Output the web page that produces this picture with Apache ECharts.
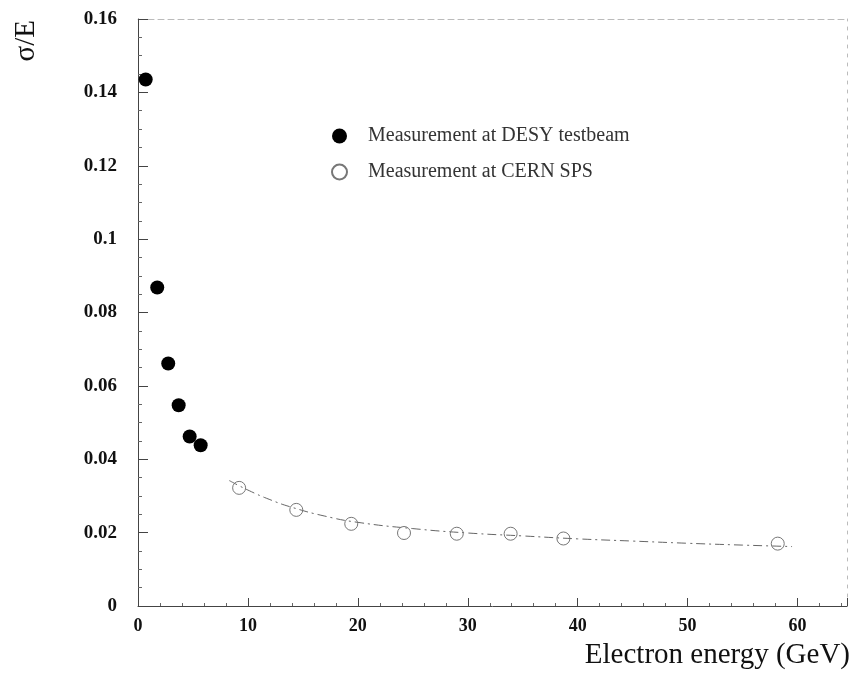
<!DOCTYPE html>
<html>
<head>
<meta charset="utf-8">
<script src="https://cdn.jsdelivr.net/npm/echarts@6/dist/echarts.min.js"></script>
<style>
  html, body { margin: 0; padding: 0; background: #fff; }
  #chart { width: 854px; height: 675px; }
</style>
</head>
<body>
<div id="chart"></div>
<script>
// Energy resolution sigma/E versus electron energy
const desyEnergy = [0.7, 1.75, 2.75, 3.7, 4.7, 5.7];
const desyRes    = [0.1435, 0.0868, 0.0661, 0.0547, 0.0462, 0.0438];

const cernEnergy = [9.2, 14.4, 19.4, 24.2, 29.0, 33.9, 38.7, 58.2];
const cernRes    = [0.0322, 0.0262, 0.0224, 0.0199, 0.0197, 0.0197, 0.0184, 0.0170];

// Fitted resolution curve, traced along its length
const fitEnergy = [8.3, 10, 12, 14, 17, 20, 25, 30, 35, 40, 45, 50, 55, 59.5];
const fitRes    = [0.0342, 0.0316, 0.0290, 0.0269, 0.0245, 0.0228, 0.0211, 0.0199, 0.0191, 0.0183, 0.0177, 0.0171, 0.0166, 0.0162];

const xTicks = [0, 10, 20, 30, 40, 50, 60];
const yTicks = [0, 0.02, 0.04, 0.06, 0.08, 0.1, 0.12, 0.14, 0.16];

const pair = (xs, ys) => xs.map((x, i) => [x, ys[i]]);
const serif = '"Liberation Serif", "DejaVu Serif", serif';

const chart = echarts.init(document.getElementById('chart'));
chart.setOption({
  animation: false,
  backgroundColor: '#fff',
  grid: { left: 138, right: 7, top: 19, bottom: 69 },
  legend: {
    orient: 'vertical',
    left: 326,
    top: 121,
    itemWidth: 15,
    itemHeight: 15,
    itemGap: 16,
    data: ['Measurement at DESY testbeam', 'Measurement at CERN SPS'],
    textStyle: { fontFamily: serif, fontSize: 20, color: '#333', padding: [0, 0, 0, 16] }
  },
  xAxis: [{
    type: 'value', min: 0, max: 64.5, interval: 10,
    axisLine: { lineStyle: { color: '#444', width: 1 } },
    axisTick: { inside: true, length: 8, lineStyle: { color: '#444' } },
    minorTick: { show: true, splitNumber: 5, length: 3, lineStyle: { color: '#666' } },
    splitLine: { show: false },
    axisLabel: {
      margin: 11, fontFamily: serif, fontWeight: 'bold', fontSize: 18, color: '#111',
      formatter: v => (xTicks.indexOf(v) >= 0 ? String(v) : '')
    }
  }, {
    type: 'value', position: 'top', min: 0, max: 64.5,
    axisLine: { show: true, onZero: false, lineStyle: { color: '#bbb', type: [6, 4], width: 1 } },
    axisTick: { show: false }, axisLabel: { show: false }, splitLine: { show: false }
  }],
  yAxis: [{
    type: 'value', min: 0, max: 0.16, interval: 0.02,
    axisLine: { show: true, lineStyle: { color: '#444', width: 1 } },
    axisTick: { inside: true, length: 10, lineStyle: { color: '#444' } },
    minorTick: { show: true, splitNumber: 4, length: 4, lineStyle: { color: '#666' } },
    splitLine: { show: false },
    axisLabel: {
      margin: 21, fontFamily: serif, fontWeight: 'bold', fontSize: 19, color: '#111',
      formatter: v => (yTicks.some(t => Math.abs(t - v) < 1e-9) ? String(+v.toFixed(2)) : '')
    }
  }, {
    type: 'value', position: 'right', min: 0, max: 0.16,
    axisLine: { show: true, onZero: false, lineStyle: { color: '#bbb', type: [3, 6], width: 1 } },
    axisTick: { show: false }, axisLabel: { show: false }, splitLine: { show: false }
  }],
  graphic: [{
    type: 'text', left: 12, top: 20, rotation: Math.PI / 2,
    style: { text: 'σ/E', font: '29px ' + serif, fill: '#111' }
  }, {
    type: 'text', right: 4, top: 641,
    style: { text: 'Electron energy (GeV)', font: '29px ' + serif, fill: '#111' }
  }],
  series: [{
    name: 'fit', type: 'line', smooth: true, showSymbol: false, z: 1,
    data: pair(fitEnergy, fitRes),
    lineStyle: { color: '#666', width: 1, type: [9, 4, 2, 4] }
  }, {
    name: 'Measurement at DESY testbeam', type: 'scatter', symbol: 'circle', symbolSize: 14, z: 3,
    data: pair(desyEnergy, desyRes),
    itemStyle: { color: '#000', opacity: 1 }
  }, {
    name: 'Measurement at CERN SPS', type: 'scatter', symbol: 'circle', symbolSize: 13, z: 3,
    data: pair(cernEnergy, cernRes),
    itemStyle: { color: 'rgba(255,255,255,0)', borderColor: '#777', borderWidth: 1, opacity: 1 }
  }]
});
</script>
</body>
</html>
